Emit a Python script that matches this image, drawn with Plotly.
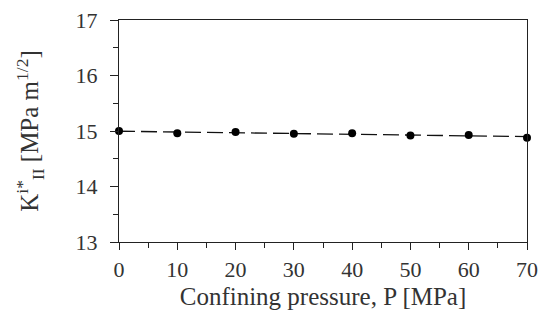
import numpy as np
import plotly.graph_objects as go

# confining pressure [MPa] and K_II^i* [MPa m^1/2]
pressure = [0, 10, 20, 30, 40, 50, 60, 70]
k_ii = [15.00, 14.96, 14.98, 14.95, 14.96, 14.92, 14.93, 14.88]

# linear trend through the points
slope, intercept = np.polyfit(pressure, k_ii, 1)
fit_x = [pressure[0], pressure[-1]]
fit_y = [intercept + slope * x for x in fit_x]

font = "Liberation Serif"

fig = go.Figure()
fig.add_trace(go.Scatter(x=fit_x, y=fit_y, mode="lines",
                         line=dict(color="#111", width=1.3, dash="16px,6px"),
                         showlegend=False))
fig.add_trace(go.Scatter(x=pressure, y=k_ii, mode="markers",
                         marker=dict(color="black", size=8),
                         showlegend=False, cliponaxis=False))

fig.update_layout(
    width=550, height=327,
    margin=dict(l=119, r=23, t=20, b=85),
    plot_bgcolor="white", paper_bgcolor="white",
    font=dict(family=font, size=21, color="#333"),
)
fig.update_xaxes(
    range=[0, 70], dtick=10, tick0=0, automargin=False,
    showgrid=False, zeroline=False,
    showline=True, linecolor="#222", linewidth=1, mirror=True,
    ticks="outside", ticklen=7, tickcolor="#222", ticklabelstandoff=1,
    tickfont=dict(size=22), ticklabeloverflow="allow",
    minor=dict(dtick=5, ticks="outside", ticklen=5, tickcolor="#222"),
    title=dict(text="Confining pressure, P [MPa]", standoff=6),
)
fig.update_yaxes(
    range=[13, 17], dtick=1, tick0=13, automargin=False,
    showgrid=False, zeroline=False,
    showline=True, linecolor="#222", linewidth=1, mirror=True,
    ticks="outside", ticklen=8, tickcolor="#222", ticklabelstandoff=8,
    tickfont=dict(size=22), ticklabeloverflow="allow",
    minor=dict(dtick=0.5, ticks="outside", ticklen=5, tickcolor="#222"),
    title=dict(text="K<sup>i*</sup><sub>II</sub> [MPa m<sup>1/2</sup>]", standoff=29),
)

# drop the default 8px body margin so the figure fills the window
fig.write_html("out.html", config={"displayModeBar": False},
               post_script="document.body.style.margin='0';")
